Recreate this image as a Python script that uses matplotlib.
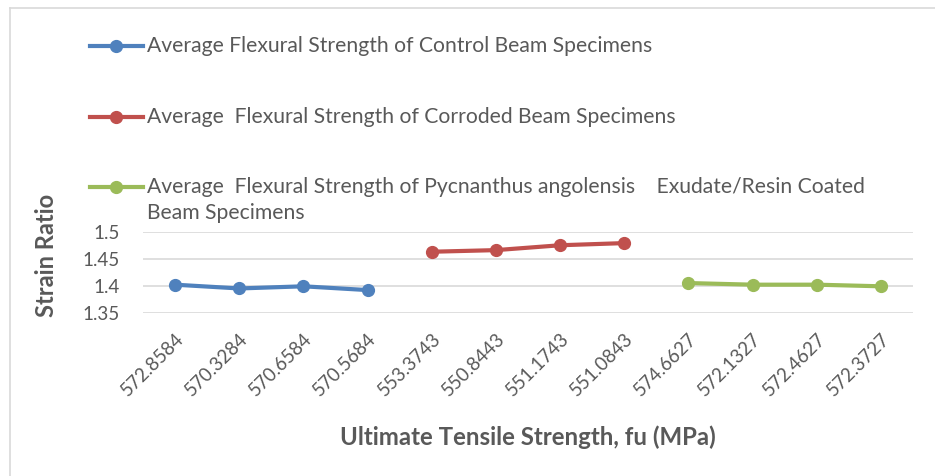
import matplotlib
matplotlib.use('Agg')
import numpy as np
from matplotlib import pyplot as plt
from matplotlib.lines import Line2D

# data
categories = ['572.8584', '570.3284', '570.6584', '570.5684',
              '553.3743', '550.8443', '551.1743', '551.0843',
              '574.6627', '572.1327', '572.4627', '572.3727']
control = [1.403, 1.396, 1.400, 1.393]
corroded = [1.464, 1.467, 1.476, 1.480]
coated = [1.406, 1.403, 1.403, 1.400]

labels = ['Average Flexural Strength of Control Beam Specimens',
          'Average  Flexural Strength of Corroded Beam Specimens',
          'Average  Flexural Strength of Pycnanthus angolensis    Exudate/Resin Coated\nBeam Specimens']
colors = ['#4F81BD', '#C0504D', '#9BBB59']

plt.rcParams['font.family'] = ['Lato', 'DejaVu Sans']
TXT = '#595959'
W, H = 935, 476

fig = plt.figure(figsize=(W / 100, H / 100), dpi=100)
ax = fig.add_axes([143 / W, 1 - 313.3 / H, 770 / W, 81 / H])

# outer chart frame (left and top edges visible)
fig.add_artist(Line2D([10 / W, 10 / W], [1 - 8 / H, 0], transform=fig.transFigure,
                      color='#D9D9D9', lw=1.2))
fig.add_artist(Line2D([10 / W, 1], [1 - 8 / H, 1 - 8 / H], transform=fig.transFigure,
                      color='#D9D9D9', lw=1.2))

x = np.arange(len(categories))
series = [control, corroded, coated]
for i, (vals, col) in enumerate(zip(series, colors)):
    y = np.full(len(categories), np.nan)
    y[i * 4:(i + 1) * 4] = vals
    ax.plot(x, y, color=col, lw=3.0, marker='o', ms=8.5, solid_capstyle='round')

ax.set_xlim(-0.5, len(categories) - 0.5)
ax.set_ylim(1.35, 1.5)
ax.set_yticks([1.35, 1.4, 1.45, 1.5])
ax.set_yticklabels(['1.35', '1.4', '1.45', '1.5'])
ax.set_xticks(x)
ax.set_xticklabels(categories, rotation=45, ha='right', rotation_mode='anchor')
ax.grid(axis='y', color='#D9D9D9', lw=1.2)
ax.set_axisbelow(True)
for s in ax.spines.values():
    s.set_visible(False)
ax.tick_params(axis='both', length=0, colors=TXT, labelsize=13.5)
ax.tick_params(axis='y', pad=17)
ax.tick_params(axis='x', pad=12)

ax.set_ylabel('Strain Ratio', fontsize=17, fontweight='bold', color=TXT)
ax.yaxis.set_label_coords(-0.110, 0.716)
ax.set_xlabel('Ultimate Tensile Strength, fu (MPa)', fontsize=17.3,
              fontweight='bold', color=TXT)
ax.xaxis.set_label_coords(0.5, -(425 - 313.3) / 81)

# legend drawn by hand: handle aligned with first line of each label
leg_y = [46, 117, 187]
for lab, col, yy in zip(labels, colors, leg_y):
    fy = 1 - yy / H
    fig.add_artist(Line2D([90 / W, 143 / W], [fy, fy], transform=fig.transFigure,
                          color=col, lw=3.0))
    fig.add_artist(Line2D([116 / W], [fy], transform=fig.transFigure,
                          color=col, marker='o', ms=8.5))
    for k, line in enumerate(lab.split('\n')):
        fig.text(147 / W, 1 - (yy + 26 * k) / H, line, fontsize=15.2, color=TXT,
                 va='center', ha='left')

plt.savefig('out.png', dpi=100)
plt.close()
